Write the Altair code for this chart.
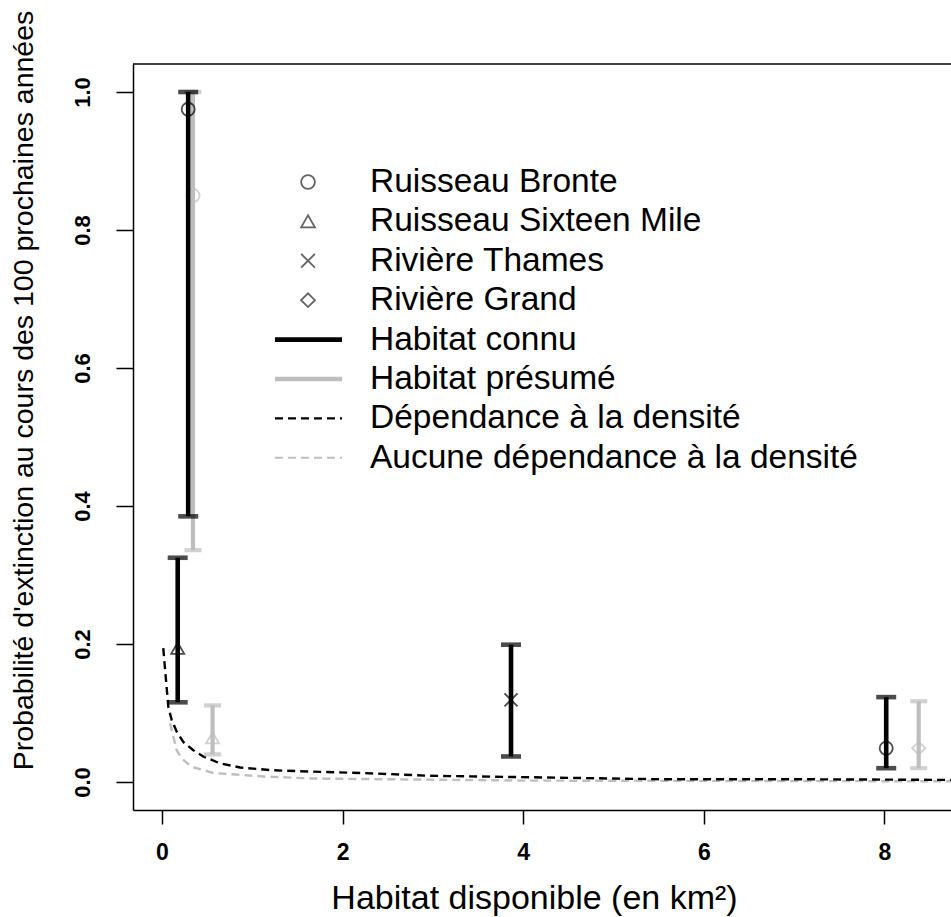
import altair as alt
import pandas as pd

FONT = "Liberation Sans"
GRAY = "#BEBEBE"

# ---------------- data ----------------
sites = ["Ruisseau Bronte", "Ruisseau Sixteen Mile", "Rivière Thames", "Rivière Grand"]

# Habitat connu (black)
known_site = ["Ruisseau Bronte", "Ruisseau Sixteen Mile", "Rivière Thames", "Rivière Grand"]
known_x = [0.29, 0.174, 3.865, 8.02]
known_p = [0.975, 0.194, 0.119, 0.049]
known_lo = [0.385, 0.1155, 0.037, 0.02]
known_hi = [1.0, 0.325, 0.199, 0.123]
known_mark = ["Ruisseau Bronte", "Ruisseau Sixteen Mile", "Rivière Thames", "Ruisseau Bronte"]

# Habitat présumé (gray)
pres_site = ["Ruisseau Bronte", "Ruisseau Sixteen Mile", "Rivière Grand"]
pres_x = [0.343, 0.56, 8.38]
pres_p = [0.85, 0.064, 0.049]
pres_lo = [0.336, 0.040, 0.02]
pres_hi = [1.0, 0.111, 0.117]
pres_mark = ["Ruisseau Bronte", "Ruisseau Sixteen Mile", "Rivière Grand"]

# Dépendance à la densité (black dashed curve)
dd_x = [0.014, 0.044, 0.07, 0.107, 0.163, 0.236, 0.347, 0.457, 0.642, 0.864,
        1.229, 1.672, 2.226, 2.968, 3.5, 4.5, 5.5, 7.0, 8.74]
dd_y = [0.194, 0.148, 0.109, 0.090, 0.073, 0.058, 0.046, 0.037, 0.027, 0.021,
        0.017, 0.015, 0.013, 0.009, 0.008, 0.006, 0.004, 0.004, 0.003]

# Aucune dépendance à la densité (gray dashed curve)
ndd_x = [0.089, 0.125, 0.163, 0.218, 0.329, 0.568, 1.122, 1.676, 2.5, 4.0, 8.74]
ndd_y = [0.085, 0.066, 0.046, 0.034, 0.022, 0.013, 0.008, 0.005, 0.004, 0.002, 0.001]

legend_labels = ["Ruisseau Bronte", "Ruisseau Sixteen Mile", "Rivière Thames", "Rivière Grand",
                 "Habitat connu", "Habitat présumé", "Dépendance à la densité",
                 "Aucune dépendance à la densité"]

x_ticks = [0, 2, 4, 6, 8]
y_ticks = [0.0, 0.2, 0.4, 0.6, 0.8, 1.0]

# ---------------- layout ----------------
X_DOM = [-0.3212, 8.7375]
Y_DOM = [-0.0406, 1.0406]
LEG_ROWS = [0.8696, 0.8125, 0.7554, 0.6983, 0.6412, 0.5841, 0.5270, 0.4699]
LEG_SYM_X = 1.617
LEG_LINE_X = [1.251, 1.993]
LEG_TEXT_X = 2.303

shape_domain = sites
shape_range = ["circle", "triangle-up", "M-1,-1L1,1M-1,1L1,-1", "diamond"]

xs = alt.Scale(domain=X_DOM, nice=False, zero=False)
ys = alt.Scale(domain=Y_DOM, nice=False, zero=False)

x_axis = alt.Axis(values=x_ticks, format="d", labelFontSize=23, labelFont=FONT,
                  labelFontWeight="bold",
                  tickSize=14, tickWidth=1.5, tickColor="black", labelPadding=17,
                  domain=True, domainColor="black", domainWidth=1.5, grid=False,
                  labelColor="black",
                  title="Habitat disponible (en km²)", titleFont=FONT, titleFontSize=34,
                  titleFontWeight="normal", titleColor="black",
                  titleX=401, titleY=88, titleBaseline="middle", titleAlign="center")
y_axis = alt.Axis(values=y_ticks, format=".1f", labelFontSize=22, labelFont=FONT,
                  labelFontWeight="bold",
                  labelAngle=-90, labelAlign="center", labelBaseline="bottom",
                  labelColor="black",
                  tickSize=17, tickWidth=1.5, tickColor="black", labelPadding=22,
                  domain=True, domainColor="black", domainWidth=1.5, grid=False,
                  title="Probabilité d'extinction au cours des 100 prochaines années",
                  titleFont=FONT, titleFontSize=28.5, titleFontWeight="normal",
                  titleColor="black", titleAngle=270,
                  titleX=-110, titleY=326, titleBaseline="middle", titleAlign="center")

known = pd.DataFrame({"site": known_site, "x": known_x, "p": known_p,
                      "lo": known_lo, "hi": known_hi, "mark": known_mark})
pres = pd.DataFrame({"site": pres_site, "x": pres_x, "p": pres_p,
                     "lo": pres_lo, "hi": pres_hi, "mark": pres_mark})
dd = pd.DataFrame({"x": dd_x, "y": dd_y})
ndd = pd.DataFrame({"x": ndd_x, "y": ndd_y})

# curves
dd_line = alt.Chart(dd).mark_line(color="black", strokeWidth=2.4, strokeDash=[8, 5]).encode(
    x=alt.X("x:Q", scale=xs, axis=x_axis), y=alt.Y("y:Q", scale=ys, axis=y_axis))
ndd_line = alt.Chart(ndd).mark_line(color=GRAY, strokeWidth=2.4, strokeDash=[8, 5]).encode(
    x=alt.X("x:Q", scale=xs, axis=x_axis), y=alt.Y("y:Q", scale=ys, axis=y_axis))


def bars(df, color, width, cap):
    base = alt.Chart(df)
    rule = base.mark_rule(color=color, strokeWidth=width).encode(
        x=alt.X("x:Q", scale=xs), y=alt.Y("lo:Q", scale=ys), y2="hi:Q")
    top = base.mark_tick(color=color, orient="horizontal", size=cap, thickness=width).encode(
        x=alt.X("x:Q", scale=xs), y=alt.Y("hi:Q", scale=ys))
    bot = base.mark_tick(color=color, orient="horizontal", size=cap, thickness=width).encode(
        x=alt.X("x:Q", scale=xs), y=alt.Y("lo:Q", scale=ys))
    pts = base.mark_point(color=color, filled=False, strokeWidth=1.8, size=170).encode(
        x=alt.X("x:Q", scale=xs), y=alt.Y("p:Q", scale=ys),
        shape=alt.Shape("mark:N", scale=alt.Scale(domain=shape_domain, range=shape_range),
                        legend=None))
    return [rule, top, bot, pts]


pres_layers = bars(pres, GRAY, 4.2, 17)
known_layers = bars(known, "black", 4.6, 20)

# legend
leg_sym = pd.DataFrame({"x": [LEG_SYM_X] * 4, "y": LEG_ROWS[:4], "mark": sites})
leg_sym_layer = alt.Chart(leg_sym).mark_point(color="#222222", filled=False, strokeWidth=1.8,
                                              size=190).encode(
    x=alt.X("x:Q", scale=xs), y=alt.Y("y:Q", scale=ys),
    shape=alt.Shape("mark:N", scale=alt.Scale(domain=shape_domain, range=shape_range),
                    legend=None))

leg_line_styles = [("black", 4.6, None), (GRAY, 4.6, None),
                   ("black", 2.2, [8, 5]), (GRAY, 2.2, [8, 5])]
leg_lines = []
for i, (c, w, d) in enumerate(leg_line_styles):
    lr = alt.Chart(pd.DataFrame({"x": [LEG_LINE_X[0]], "x2": [LEG_LINE_X[1]],
                                 "y": [LEG_ROWS[4 + i]]}))
    if d is None:
        m = lr.mark_rule(color=c, strokeWidth=w)
    else:
        m = lr.mark_rule(color=c, strokeWidth=w, strokeDash=d)
    leg_lines.append(m.encode(x=alt.X("x:Q", scale=xs), x2="x2:Q",
                              y=alt.Y("y:Q", scale=ys)))

leg_text = alt.Chart(pd.DataFrame({"x": [LEG_TEXT_X] * 8, "y": LEG_ROWS,
                                   "t": legend_labels})).mark_text(
    align="left", baseline="middle", font=FONT, fontSize=33.5, color="black").encode(
    x=alt.X("x:Q", scale=xs), y=alt.Y("y:Q", scale=ys), text="t:N")

top_border = alt.Chart(pd.DataFrame({"x": [X_DOM[0]], "x2": [X_DOM[1]], "y": [Y_DOM[1]]})).mark_rule(
    color="black", strokeWidth=1.5).encode(
    x=alt.X("x:Q", scale=xs), x2="x2:Q", y=alt.Y("y:Q", scale=ys))

chart = alt.layer(
    ndd_line, dd_line, *pres_layers, *known_layers, leg_sym_layer, *leg_lines, leg_text,
    top_border
).properties(
    width=818, height=746,
    autosize=alt.AutoSizeParams(type="none"),
    padding={"left": 133, "top": 64, "right": 0, "bottom": 107},
    background="white",
).configure_view(stroke=None)

chart.save("out.html", embed_options={"renderer": "svg", "actions": False})
